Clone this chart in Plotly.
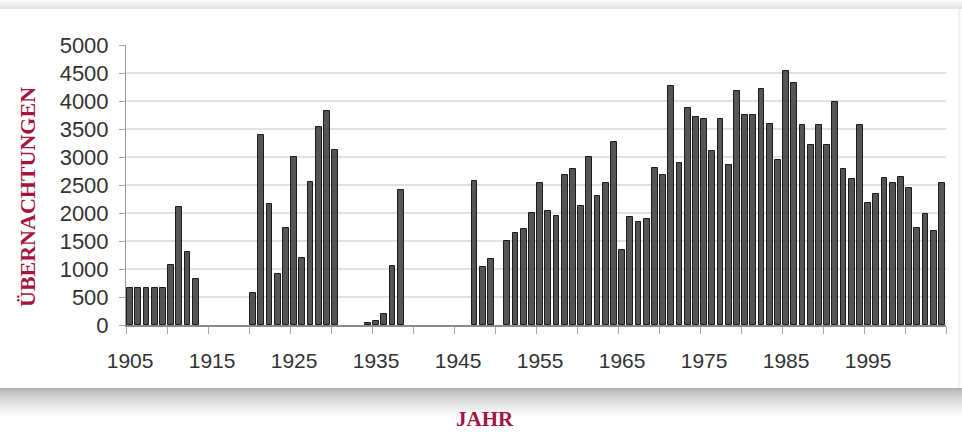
import plotly.graph_objects as go

years = list(range(1905, 2005))
values_by_year = {
    1905: 660, 1906: 660, 1907: 660, 1908: 660, 1909: 660,
    1910: 1065, 1911: 2105, 1912: 1310, 1913: 820,
    1920: 580, 1921: 3390, 1922: 2165, 1923: 910, 1924: 1740,
    1925: 3000, 1926: 1200, 1927: 2550, 1928: 3535, 1929: 3815, 1930: 3120,
    1934: 30, 1935: 65, 1936: 190, 1937: 1045, 1938: 2405,
    1947: 2575, 1948: 1030, 1949: 1170,
    1951: 1505, 1952: 1648, 1953: 1718, 1954: 1995, 1955: 2543,
    1956: 2030, 1957: 1950, 1958: 2687, 1959: 2782, 1960: 2124,
    1961: 3004, 1962: 2298, 1963: 2531, 1964: 3261, 1965: 1340,
    1966: 1933, 1967: 1831, 1968: 1885, 1969: 2806, 1970: 2687,
    1971: 4272, 1972: 2896, 1973: 3871, 1974: 3722, 1975: 3680,
    1976: 3112, 1977: 3682, 1978: 2863, 1979: 4184, 1980: 3754,
    1981: 3754, 1982: 4219, 1983: 3582, 1984: 2944, 1985: 4535,
    1986: 4321, 1987: 3576, 1988: 3212, 1989: 3576, 1990: 3212,
    1991: 3987, 1992: 2777, 1993: 2604, 1994: 3576, 1995: 2175,
    1996: 2336, 1997: 2634, 1998: 2533, 1999: 2646, 2000: 2455,
    2001: 1728, 2002: 1985, 2003: 1675, 2004: 2533,
}
values = [values_by_year.get(y) for y in years]

y_ticks = list(range(0, 5001, 500))
grid_vals = list(range(500, 5000, 500))
x_label_years = list(range(1905, 2000, 10))

W, H = 962, 433
ML, MR, MT, MB = 126, 16, 45, 108
PW, PH = W - ML - MR, H - MT - MB


def px_x(px):
    return (px - ML) / PW


def px_y(py):
    return (H - MB - py) / PH


fig = go.Figure()
fig.add_trace(go.Bar(
    x=years, y=values, width=0.72,
    marker=dict(color="#555555", line=dict(color="#1c1c1c", width=1)),
    hoverinfo="x+y",
))

shapes = []


def strip(x0, x1, y0, y1, grey):
    c = int(grey)
    shapes.append(dict(type="rect", xref="paper", yref="paper", layer="below",
                       x0=px_x(x0), x1=px_x(x1), y0=px_y(y0), y1=px_y(y1),
                       line=dict(width=0), fillcolor=f"rgb({c},{c},{c})"))


# top shadow (above card)
n = 9
for i in range(n):
    g = 250 - 22 * (i / (n - 1))
    strip(0, W, i, i + 1, g)
# bottom shadow (below card)
n = 30
for i in range(n):
    t = i / (n - 1)
    g = 178 + (255 - 178) * (t ** 0.7)
    strip(0, W, 388 + i, 389 + i, g)
# right edge shadow
for i in range(4):
    g = 240 + 4 * i
    strip(958 + i, 959 + i, 9, 388, g)

fig.update_layout(
    width=W, height=H,
    margin=dict(l=ML, r=MR, t=MT, b=MB),
    paper_bgcolor="white", plot_bgcolor="rgba(0,0,0,0)",
    showlegend=False, bargap=0,
    shapes=shapes,
    font=dict(family="Liberation Sans, Arial, sans-serif", color="#333333", size=20),
    xaxis=dict(
        range=[1904.5, 2004.5],
        tickmode="array", tickvals=x_label_years,
        ticktext=[str(v) for v in x_label_years],
        ticks="", showgrid=False, zeroline=False,
        showline=True, linecolor="#8c8c8c", linewidth=1.5,
        ticklabelstandoff=16,
        tickfont=dict(size=21, color="#333333"),
        minor=dict(tick0=1904.5, dtick=5, ticks="outside", ticklen=7,
                   tickcolor="#aaaaaa", tickwidth=1, showgrid=False),
    ),
    yaxis=dict(
        range=[0, 5000],
        tickmode="array", tickvals=y_ticks,
        ticktext=[str(v) for v in y_ticks],
        ticks="outside", ticklen=6, tickcolor="#aaaaaa", tickwidth=1,
        showgrid=False, zeroline=False,
        showline=True, linecolor="#9a9a9a", linewidth=1,
        ticklabelstandoff=6,
        tickfont=dict(size=22, color="#333333"),
        minor=dict(tickmode="array", tickvals=grid_vals, ticks="",
                   showgrid=True, gridcolor="#e2e2e2", gridwidth=1.5),
    ),
    annotations=[
        dict(text="ÜBERNACHTUNGEN", xref="paper", yref="paper",
             x=px_x(27), y=px_y(197), xanchor="center", yanchor="middle",
             textangle=-90, showarrow=False,
             font=dict(family="Liberation Serif, Times New Roman, serif",
                       size=22, color="#a3143f", weight="bold")),
        dict(text="JAHR", xref="paper", yref="paper",
             x=px_x(485), y=px_y(419), xanchor="center", yanchor="middle",
             showarrow=False,
             font=dict(family="Liberation Serif, Times New Roman, serif",
                       size=21, color="#a3143f", weight="bold")),
    ],
)

fig.write_html(
    "out.html",
    config={"displayModeBar": False},
    post_script="document.body.style.margin='0';document.body.style.overflow='hidden';",
)
